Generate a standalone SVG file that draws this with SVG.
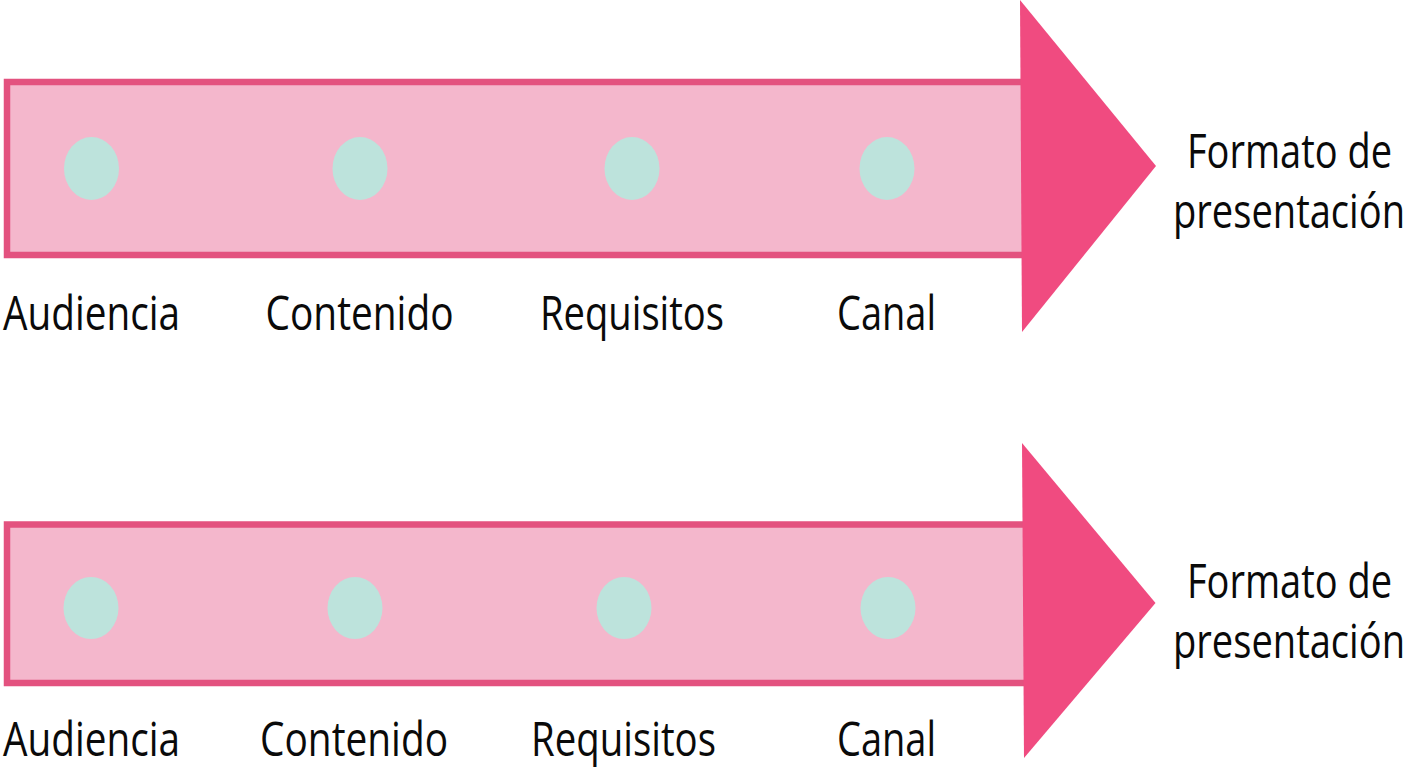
<svg xmlns="http://www.w3.org/2000/svg" width="1408" height="768" viewBox="0 0 1408 768">
<style>
.bar{fill:#f4b7cc;stroke:#e3527f;stroke-width:6.500}
.head{fill:#f04b80}
.dot{fill:#bde3dc}
text{font-family:"Open Sans","Noto Sans",sans-serif;font-size:38px;fill:#0a0a0a;text-anchor:start}
</style>
<rect width="1408" height="768" fill="#fff"/>
<g id="arrow-1">
<rect class="bar" x="7" y="82" width="1025" height="173"/>
<polygon class="head" points="1020,0 1156,166 1022,332"/>
</g>
<g id="arrow-2">
<rect class="bar" x="7" y="524.500" width="1025" height="158.500"/>
<polygon class="head" points="1022,443 1155.500,603 1024,758"/>
</g>
<g id="n1"><ellipse class="dot" cx="91.500" cy="168.500" rx="27.500" ry="31.500"/><text transform="translate(3 330) scale(1 1.263)" textLength="177" lengthAdjust="spacingAndGlyphs">Audiencia</text></g>
<g id="n2"><ellipse class="dot" cx="360" cy="168.500" rx="27.500" ry="31.500"/><text transform="translate(265.500 330) scale(1 1.263)" textLength="188" lengthAdjust="spacingAndGlyphs">Contenido</text></g>
<g id="n3"><ellipse class="dot" cx="632" cy="168.500" rx="27.500" ry="31.500"/><text transform="translate(540 330) scale(1 1.263)" textLength="184" lengthAdjust="spacingAndGlyphs">Requisitos</text></g>
<g id="n4"><ellipse class="dot" cx="887" cy="168.500" rx="27.500" ry="31.500"/><text transform="translate(837 330) scale(1 1.263)" textLength="99" lengthAdjust="spacingAndGlyphs">Canal</text></g>
<g id="n5"><text transform="translate(1187 168) scale(1 1.263)" textLength="205" lengthAdjust="spacingAndGlyphs">Formato de</text><text transform="translate(1173 228) scale(1 1.263)" textLength="232" lengthAdjust="spacingAndGlyphs">presentación</text></g>
<g id="n6"><ellipse class="dot" cx="91" cy="608" rx="27.500" ry="31"/><text transform="translate(3 756) scale(1 1.263)" textLength="177" lengthAdjust="spacingAndGlyphs">Audiencia</text></g>
<g id="n7"><ellipse class="dot" cx="355" cy="608" rx="27.500" ry="31"/><text transform="translate(260 756) scale(1 1.263)" textLength="188" lengthAdjust="spacingAndGlyphs">Contenido</text></g>
<g id="n8"><ellipse class="dot" cx="624" cy="608" rx="27.500" ry="31"/><text transform="translate(531 756) scale(1 1.263)" textLength="185" lengthAdjust="spacingAndGlyphs">Requisitos</text></g>
<g id="n9"><ellipse class="dot" cx="888" cy="608" rx="27.500" ry="31"/><text transform="translate(837 756) scale(1 1.263)" textLength="99" lengthAdjust="spacingAndGlyphs">Canal</text></g>
<g id="n10"><text transform="translate(1187 598) scale(1 1.263)" textLength="205" lengthAdjust="spacingAndGlyphs">Formato de</text><text transform="translate(1173 658) scale(1 1.263)" textLength="232" lengthAdjust="spacingAndGlyphs">presentación</text></g>
<g id="connectors"></g>
</svg>
